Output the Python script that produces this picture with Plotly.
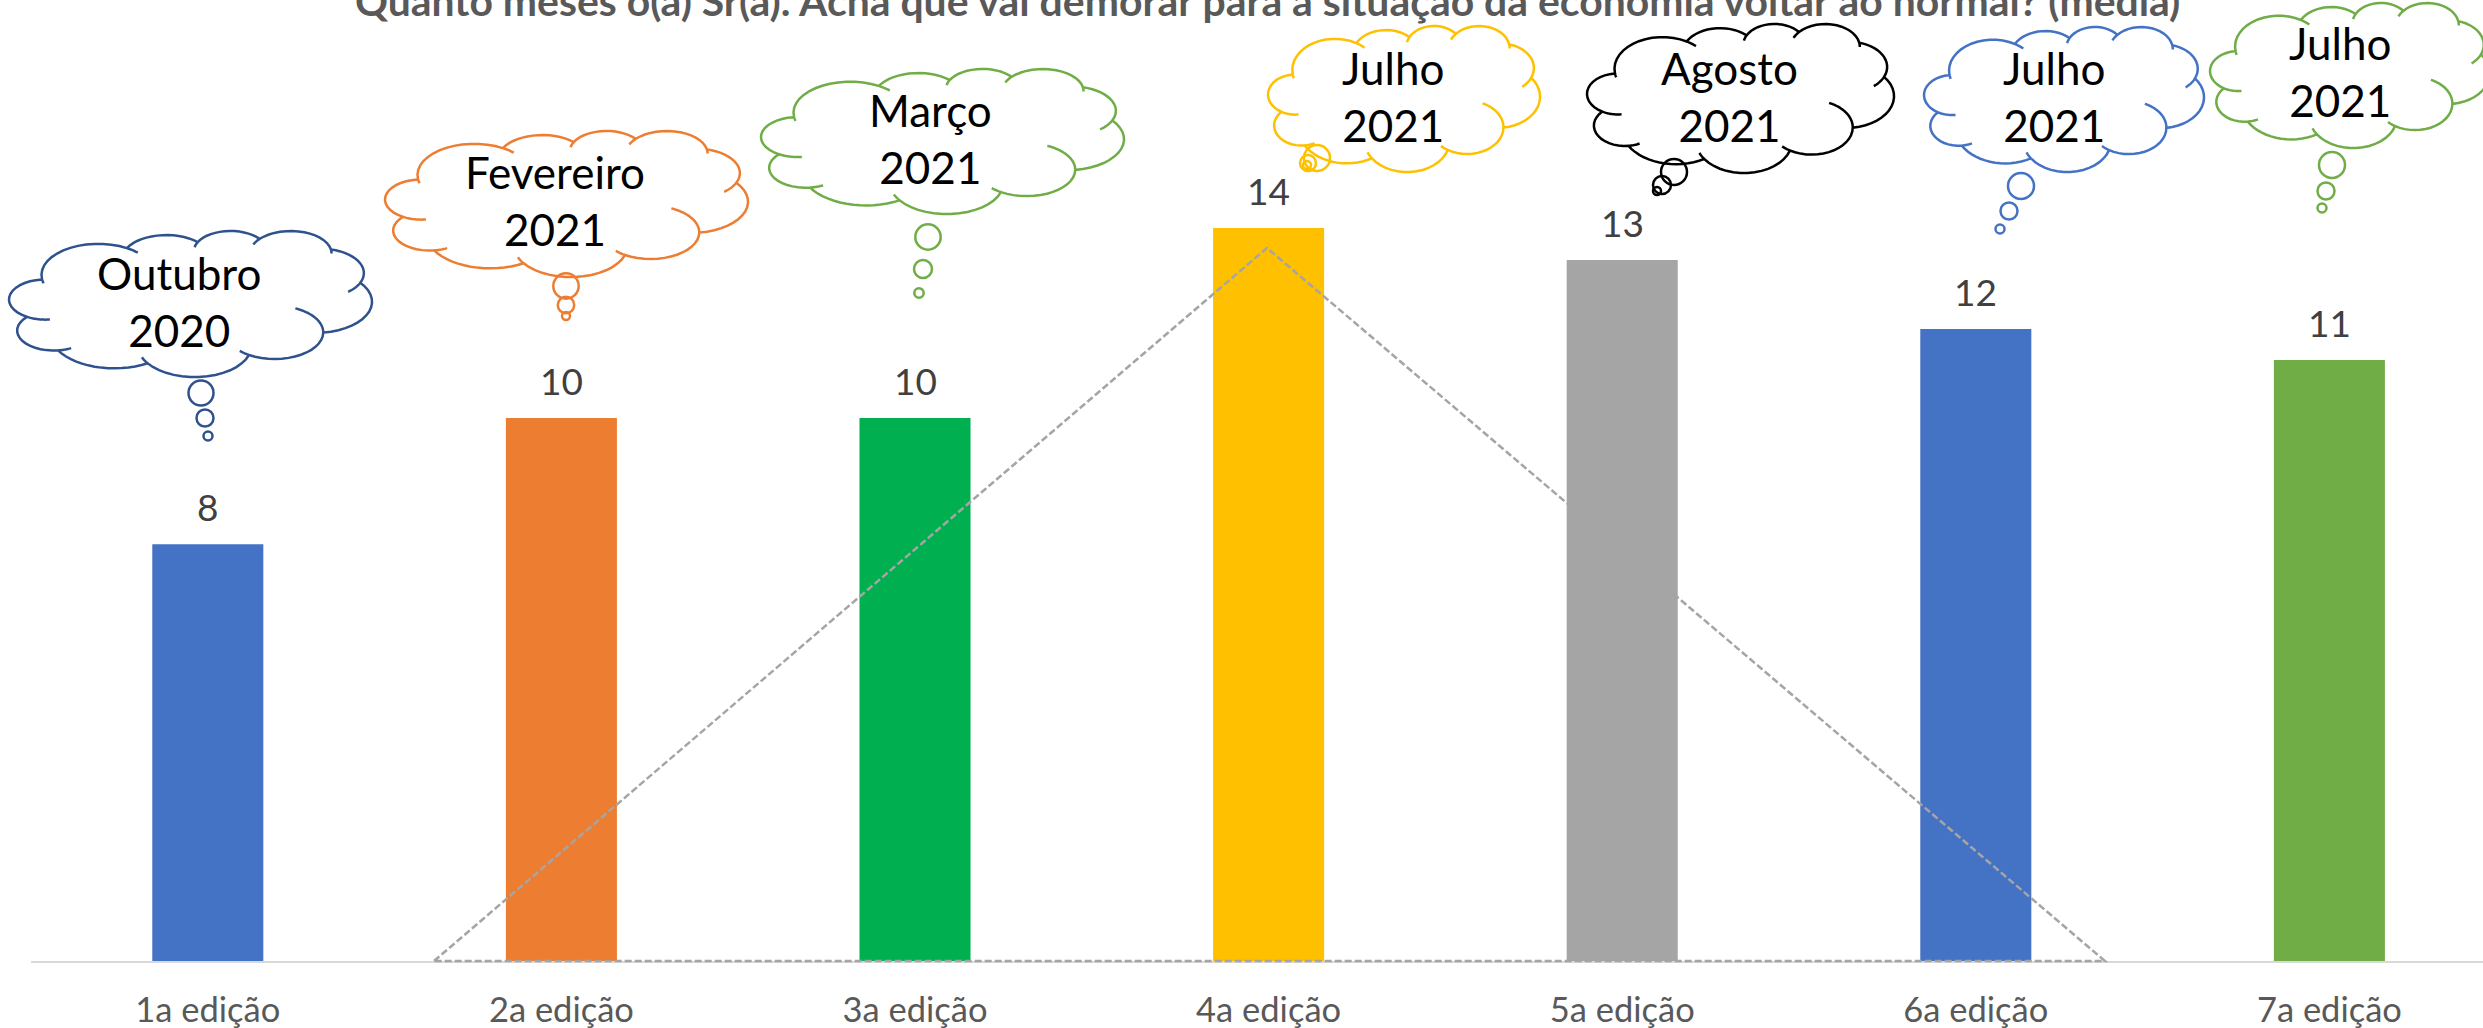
import math
import numpy as np
import plotly.graph_objects as go

# ---- data ----
editions = ["1a edição", "2a edição", "3a edição", "4a edição", "5a edição", "6a edição", "7a edição"]
months_mean = [7.96, 10.37, 10.37, 14.0, 13.39, 12.07, 11.48]
bar_colors = ["#4472C4", "#ED7D31", "#00B050", "#FFC000", "#A5A5A5", "#4472C4", "#70AD47"]
cloud_texts = ["Outubro<br>2020", "Fevereiro<br>2021", "Março<br>2021", "Julho<br>2021",
               "Agosto<br>2021", "Julho<br>2021", "Julho<br>2021"]
cloud_colors = ["#2F528F", "#ED7D31", "#70AD47", "#FFC000", "#000000", "#4472C4", "#70AD47"]
title_text = "Quanto meses o(a) Sr(a). Acha que vai demorar para a situação da economia voltar ao normal? (média)"

# ---- layout (pixels on the 2483x1028 page) ----
W, H = 2483, 1028
AXIS_LEFT, AXIS_Y = 31, 961
SLOT = 353.6
PX_PER_UNIT = 52.36
cloud_boxes = [(9, 231, 372, 377), (385, 131, 748, 277), (761, 69, 1124, 214), (1268, 26, 1540, 172),
               (1587, 24, 1894, 173), (1924, 27, 2204, 172), (2210, 3, 2490, 148)]
cloud_text_pos = [(179, 301), (555, 201), (930, 139), (1393, 96), (1729, 96), (2054, 96), (2340, 72)]
cloud_bubbles = [
    [(201, 393, 12.5), (205, 418, 8.5), (208, 436, 4.5)],
    [(566, 286, 12.7), (566, 305, 8.2), (566, 316, 4)],
    [(928, 237, 12.7), (923, 269, 9), (919, 293, 4.7)],
    [(1317, 158, 13), (1308, 163, 8), (1307, 165, 4)],
    [(1674, 172, 13), (1662, 185, 9), (1657, 191, 4)],
    [(2021, 186, 13), (2009, 211, 8.5), (2000, 229, 4.5)],
    [(2332, 165, 13), (2326, 191, 8.5), (2322, 208, 4.5)],
]
triangle = [(434, AXIS_Y), (1267, 248), (2105, AXIS_Y)]

# Office "cloud" outline, in its 43200 unit box
CLOUD_START = (3900, 14370)
CLOUD_LOBES = [
    (6753, 9190, -11429249, 7426832), (5333, 7267, -8646143, 5396714), (4365, 5945, -8748475, 5983381),
    (4857, 6595, -7859164, 7034504), (5333, 7273, -4722533, 6541615), (6775, 9220, -2776035, 7816140),
    (5785, 7867, 37501, 6842000), (6752, 9215, 1347096, 6910353), (7720, 10543, 3974558, 4542661),
    (4360, 5918, -16496525, 8804134), (4345, 5945, -14809795, 9151131),
]
# inner hooks: lobe, which end of it is prolonged, and the hook tip as a fraction of the cloud box
CLOUD_HOOKS = [
    (10, "start", .111, .605), (9, "start", .171, .802), (7, "end", .368, .862), (6, "end", .667, .80),
    (6, "start", .788, .529), (4, "end", .931, .416), (3, "end", .887, .156), (3, "start", .672, .092),
    (2, "start", .513, .110), (0, "end", .356, .149), (0, "start", .099, .359),
]


def px(x):
    return x / W


def py(y):
    return 1 - y / H


def visual_to_param(ang, rx, ry):
    return math.atan2(rx * math.sin(ang), ry * math.cos(ang))


def build_outline():
    cx0, cy0 = CLOUD_START
    ellipses, outline = [], []
    for rx, ry, st, sw in CLOUD_LOBES:
        a1 = st / 60000 * math.pi / 180
        a2 = (st + sw) / 60000 * math.pi / 180
        t1 = visual_to_param(a1, rx, ry)
        t2 = visual_to_param(a2, rx, ry)
        while t2 < t1:
            t2 += 2 * math.pi
        ex, ey = cx0 - rx * math.cos(t1), cy0 - ry * math.sin(t1)
        ts = np.linspace(t1, t2, 16)
        pts = [(ex + rx * math.cos(t), ey + ry * math.sin(t)) for t in ts]
        outline.extend(pts if not outline else pts[1:])
        cx0, cy0 = pts[-1]
        ellipses.append((ex, ey, rx, ry, t1, t2))
    return outline, ellipses


outline, ellipses = build_outline()
xs = [p[0] for p in outline]
ys = [p[1] for p in outline]
ox0, ox1, oy0, oy1 = min(xs), max(xs), min(ys), max(ys)

hooks = []
for lobe, side, fx, fy in CLOUD_HOOKS:
    ex, ey, rx, ry, t1, t2 = ellipses[lobe]
    hx, hy = ox0 + fx * (ox1 - ox0), oy0 + fy * (oy1 - oy0)
    base, sign = (t1, -1) if side == "start" else (t2, 1)
    ts = base + sign * np.linspace(0, 1.6, 60)
    d = np.hypot(ex + rx * np.cos(ts) - hx, ey + ry * np.sin(ts) - hy)
    i = max(int(np.argmin(d)), 1)
    hooks.append([(ex + rx * math.cos(t), ey + ry * math.sin(t)) for t in ts[:i + 1]])


def to_path(points, box, close=False):
    x0, y0, x1, y1 = box
    parts = []
    for i, (x, y) in enumerate(points):
        X = x0 + (x - ox0) / (ox1 - ox0) * (x1 - x0)
        Y = y0 + (y - oy0) / (oy1 - oy0) * (y1 - y0)
        parts.append(f"{'M' if i == 0 else 'L'}{px(X):.5f},{py(Y):.5f}")
    return " ".join(parts) + (" Z" if close else "")


shapes = []
for box, color, bubbles in zip(cloud_boxes, cloud_colors, cloud_bubbles):
    line = dict(color=color, width=2.5)
    path = to_path(outline, box, True) + " " + " ".join(to_path(h, box) for h in hooks)
    shapes.append(dict(type="path", xref="paper", yref="paper", path=path, line=line, fillcolor="rgba(0,0,0,0)"))
    for bx, by, r in bubbles:
        shapes.append(dict(type="circle", xref="paper", yref="paper", x0=px(bx - r), x1=px(bx + r),
                           y0=py(by + r), y1=py(by - r), line=line, fillcolor="rgba(0,0,0,0)"))

tri_path = " ".join(f"{'M' if i == 0 else 'L'}{px(x):.5f},{py(y):.5f}" for i, (x, y) in enumerate(triangle)) + " Z"
shapes.append(dict(type="path", xref="paper", yref="paper", path=tri_path,
                   line=dict(color="#A5A5A5", width=2.5, dash="7px,3px"), fillcolor="rgba(0,0,0,0)"))

annotations = [dict(x=px(1267), y=py(1), xref="paper", yref="paper", text=f"<b>{title_text}</b>",
                    showarrow=False, xanchor="center", yanchor="middle",
                    font=dict(family="Lato", size=40.9, color="#595959"))]
for ed, val in zip(editions, months_mean):
    annotations.append(dict(x=ed, y=val, xref="x", yref="y", text=f"{val:.0f}", showarrow=False,
                            xanchor="center", yanchor="bottom", yshift=13,
                            font=dict(family="Lato", size=37, color="#404040")))
for txt, (tx, ty) in zip(cloud_texts, cloud_text_pos):
    annotations.append(dict(x=px(tx), y=py(ty), xref="paper", yref="paper", text=txt, showarrow=False,
                            xanchor="center", yanchor="middle", align="center",
                            font=dict(family="Lato", size=44, color="#000000")))

fig = go.Figure(go.Bar(x=editions, y=months_mean, marker=dict(color=bar_colors, line=dict(width=0)),
                       width=0.314, hoverinfo="skip"))
fig.update_layout(
    width=W, height=H, margin=dict(l=0, r=0, t=0, b=0), paper_bgcolor="white", plot_bgcolor="white",
    showlegend=False, shapes=shapes, annotations=annotations,
    xaxis=dict(domain=[AXIS_LEFT / W, 1], type="category", range=[-0.5, (W - AXIS_LEFT) / SLOT - 0.5],
               showgrid=False, zeroline=False, showline=True, linecolor="#D9D9D9", linewidth=2, ticks="",
               ticklabelstandoff=18, automargin=False,
               tickfont=dict(family="Lato", size=34.5, color="#595959")),
    yaxis=dict(domain=[(H - AXIS_Y) / H, 1], range=[0, AXIS_Y / PX_PER_UNIT], visible=False, automargin=False),
)
fig.write_html("out.html", config=dict(displayModeBar=False),
               post_script="document.body.style.margin='0';document.body.style.overflow='hidden';")
